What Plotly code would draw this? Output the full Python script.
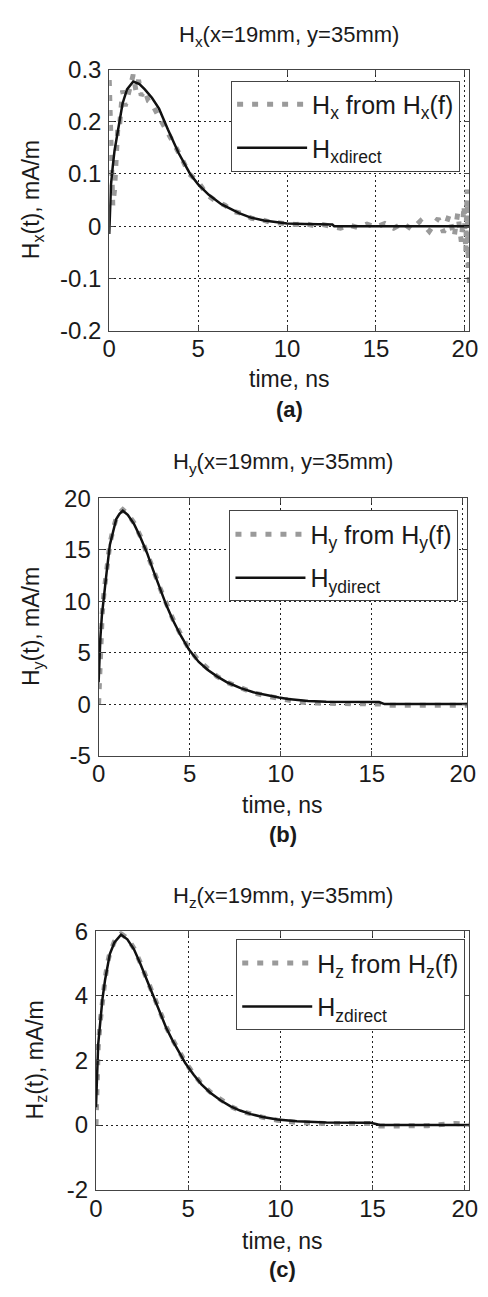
import plotly.graph_objects as go

W, H = 488, 1297

# ---------------- data ----------------
# (a) Hx
tx_direct = [0, 0.05, 0.1, 0.2, 0.3, 0.5, 0.75, 1.0, 1.35, 1.7, 2.0, 2.4, 2.8, 3.3, 3.9,
             4.55, 5.0, 5.6, 6.3, 7.3, 8.0, 8.7, 9.5, 10.0, 11, 12, 12.55, 12.65, 14, 16, 18, 20.25]
hx_direct = [-0.015, 0.04, 0.08, 0.115, 0.145, 0.185, 0.235, 0.262, 0.277, 0.272, 0.262, 0.246,
             0.225, 0.185, 0.14, 0.1, 0.08, 0.06, 0.042, 0.025, 0.016, 0.011, 0.007, 0.005,
             0.004, 0.003, 0.003, 0.0, 0, 0, 0, 0]
tx_freq = [0, 0.05, 0.1, 0.2, 0.3, 0.4, 0.5, 0.6, 0.75, 0.9, 1.05, 1.2, 1.35, 1.5, 1.65, 1.8,
           2.0, 2.2, 2.4, 2.7, 3.0, 3.3, 3.6, 4.0, 4.5, 5.0, 5.5, 6.0, 6.5, 7.0, 7.5, 8.0, 8.5,
           9.0, 9.5, 10, 10.5, 11, 11.5, 12, 12.5, 13, 13.5, 14, 14.5, 15, 15.5, 16, 16.5, 17,
           17.5, 18, 18.5, 18.8, 19.1, 19.4, 19.6, 19.8, 19.95, 20.05, 20.12, 20.18, 20.22, 20.25]
hx_freq = [0.28, 0.2, 0.1, 0.04, 0.07, 0.14, 0.2, 0.2, 0.26, 0.23, 0.25, 0.27, 0.29, 0.26, 0.28,
           0.25, 0.26, 0.24, 0.235, 0.215, 0.195, 0.175, 0.16, 0.135, 0.1, 0.085, 0.06, 0.048,
           0.04, 0.028, 0.024, 0.015, 0.013, 0.008, 0.007, 0.004, 0.003, 0.005, 0.001, 0.003,
           0.0, -0.004, 0.002, -0.003, 0.004, -0.002, 0.005, -0.004, 0.006, -0.006, 0.01, -0.01,
           0.015, -0.012, 0.02, -0.02, 0.025, -0.03, 0.04, -0.05, 0.07, -0.08, 0.05, -0.115]

# (b) Hy
ty_direct = [0, 0.05, 0.1, 0.18, 0.3, 0.44, 0.62, 0.8, 0.97, 1.15, 1.33, 1.6, 1.95, 2.3, 2.66,
             3.0, 3.37, 3.7, 4.07, 4.5, 4.96, 5.5, 6.02, 6.5, 7.08, 7.8, 8.5, 9.2, 9.9, 10.4,
             10.9, 11.5, 12.5, 13.5, 14.8, 15.4, 15.7, 17, 18.5, 20.25]
hy_direct = [2.1, 4.5, 6.5, 8.6, 10.8, 12.8, 15.5, 16.9, 18.0, 18.5, 18.8, 18.4, 17.5, 16.2, 14.7,
             13.0, 11.2, 9.7, 8.2, 6.7, 5.3, 4.1, 3.3, 2.7, 2.1, 1.55, 1.15, 0.87, 0.64, 0.5, 0.4,
             0.3, 0.22, 0.22, 0.25, 0.2, 0.0, 0, 0, 0]
ty_freq = [0, 0.05, 0.1, 0.2, 0.3, 0.44, 0.62, 0.8, 0.97, 1.15, 1.33, 1.6, 1.95, 2.3, 2.66, 3.0,
           3.37, 3.7, 4.07, 4.5, 4.96, 5.5, 6.02, 6.5, 7.08, 7.8, 8.5, 9.2, 9.9, 10.5, 11, 12,
           13, 14, 15, 15.5, 16, 17, 18, 19, 20.25]
hy_freq = [0.0, 2.5, 5.0, 8.8, 10.9, 13.0, 15.6, 17.0, 18.1, 18.6, 18.9, 18.5, 17.6, 16.3, 14.8,
           13.1, 11.3, 9.8, 8.3, 6.8, 5.4, 4.2, 3.35, 2.7, 2.1, 1.55, 1.1, 0.8, 0.55, 0.35, 0.2,
           0.1, 0.1, 0.1, 0.1, 0.0, -0.1, -0.1, -0.1, -0.1, -0.1]

# (c) Hz
tz_direct = [0, 0.05, 0.12, 0.23, 0.35, 0.49, 0.62, 0.75, 1.0, 1.36, 1.7, 2.06, 2.4, 2.76, 3.1,
             3.46, 3.8, 4.15, 4.5, 4.85, 5.3, 5.72, 6.2, 6.77, 7.3, 7.82, 8.4, 9.04, 9.84, 10.9,
             12.5, 14.9, 15.4, 16, 18, 20.25]
hz_direct = [0.55, 1.66, 2.5, 3.17, 3.9, 4.48, 4.95, 5.29, 5.65, 5.89, 5.75, 5.44, 5.0, 4.48,
             3.97, 3.47, 3.02, 2.62, 2.25, 1.91, 1.56, 1.26, 1.0, 0.76, 0.58, 0.45, 0.34, 0.25,
             0.17, 0.12, 0.08, 0.07, 0.0, 0, 0, 0]
tz_freq = [0, 0.05, 0.12, 0.23, 0.35, 0.49, 0.62, 0.75, 1.0, 1.36, 1.7, 2.06, 2.4, 2.76, 3.1,
           3.46, 3.8, 4.15, 4.5, 4.85, 5.3, 5.72, 6.2, 6.77, 7.3, 7.82, 8.4, 9.04, 9.84, 10.9,
           12.5, 14.9, 15.4, 16, 17, 18, 19, 19.5, 20.25]
hz_freq = [0.0, 1.0, 2.4, 3.2, 3.95, 4.5, 5.0, 5.32, 5.68, 5.92, 5.78, 5.47, 5.03, 4.52, 4.0,
           3.5, 3.05, 2.65, 2.28, 1.94, 1.58, 1.28, 1.02, 0.77, 0.58, 0.44, 0.33, 0.24, 0.15,
           0.08, 0.05, 0.05, -0.03, -0.03, -0.03, -0.02, 0.03, 0.05, 0.02]

titles = ["H<sub>x</sub>(x=19mm, y=35mm)", "H<sub>y</sub>(x=19mm, y=35mm)",
          "H<sub>z</sub>(x=19mm, y=35mm)"]
ylabels = ["H<sub>x</sub>(t), mA/m", "H<sub>y</sub>(t), mA/m", "H<sub>z</sub>(t), mA/m"]
freq_names = ["H<sub>x</sub> from H<sub>x</sub>(f)", "H<sub>y</sub> from H<sub>y</sub>(f)",
              "H<sub>z</sub> from H<sub>z</sub>(f)"]
direct_names = ["H<sub>xdirect</sub>", "H<sub>ydirect</sub>", "H<sub>zdirect</sub>"]
panel_tags = ["<b>(a)</b>", "<b>(b)</b>", "<b>(c)</b>"]
x_ticks = [0, 5, 10, 15, 20]
x_ticktext = ["0", "5", "10", "15", "20"]
y_ticks = [[-0.2, -0.1, 0, 0.1, 0.2, 0.3], [-5, 0, 5, 10, 15, 20], [-2, 0, 2, 4, 6]]
y_ticktext = [["-0.2", "-0.1", "0", "0.1", "0.2", "0.3"], ["-5", "0", "5", "10", "15", "20"],
              ["-2", "0", "2", "4", "6"]]
y_ranges = [[-0.2, 0.3], [-5, 20], [-2, 6]]
x_range = [0, 20.25]

# ---------------- layout geometry (pixels) ----------------
boxes = [  # left, right, top, bottom
    (105.7, 478.0, 56.7, 323.3),
    (94.7, 476.0, 494.7, 757.3),
    (92.0, 478.0, 936.7, 1200.7),
]
title_y = [22, 459, 902]
xlabel_y = [373, 808, 1253]
tag_y = [404, 838, 1282]
ylabel_x = [26, 27, 30]
legend_pos = [(231.7, 68), (230, 507), (237, 945)]

FONT = "Liberation Sans, Arial, sans-serif"
TXT = "#1a1a1a"

def px(x):
    return x / W

def py(y):
    return 1 - y / H

fig = go.Figure()
series = [
    (tx_freq, hx_freq, tx_direct, hx_direct),
    (ty_freq, hy_freq, ty_direct, hy_direct),
    (tz_freq, hz_freq, tz_direct, hz_direct),
]
layout = dict()
annotations = []
for i, (tf, vf, td, vd) in enumerate(series):
    sfx = "" if i == 0 else str(i + 1)
    leg = "legend" + sfx
    fig.add_trace(go.Scatter(
        x=tf, y=vf, mode="lines", name=freq_names[i],
        line=dict(color="#9a9a9a", width=5, dash="6px,9px"),
        xaxis="x" + sfx, yaxis="y" + sfx, legend=leg, legendgroup="f%d" % i))
    fig.add_trace(go.Scatter(
        x=td, y=vd, mode="lines", name=direct_names[i],
        line=dict(color="#111111", width=2.5),
        xaxis="x" + sfx, yaxis="y" + sfx, legend=leg, legendgroup="d%d" % i))
    l, r, t, b = boxes[i]
    axcommon = dict(showline=True, linecolor="#444", linewidth=1, mirror="ticks",
                    ticks="inside", ticklen=5, tickcolor="#444",
                    showgrid=True, gridcolor="#222", griddash="2px,3px", gridwidth=1,
                    zeroline=False, tickfont=dict(family=FONT, size=24, color=TXT))
    layout["xaxis" + sfx] = dict(axcommon, domain=[px(l), px(r)], range=x_range,
                                 tickvals=x_ticks, ticktext=x_ticktext,
                                 anchor="y" + sfx, ticklabelstandoff=-3)
    layout["yaxis" + sfx] = dict(axcommon, domain=[py(b), py(t)], range=y_ranges[i],
                                 tickvals=y_ticks[i], ticktext=y_ticktext[i],
                                 anchor="x" + sfx, ticklabelstandoff=2)
    lx, ly = legend_pos[i]
    layout[leg] = dict(x=px(lx), y=py(ly), xanchor="left", yanchor="top",
                       bgcolor="white", bordercolor="#444", borderwidth=1,
                       font=dict(family=FONT, size=25, color=TXT),
                       itemwidth=70, tracegroupgap=8, traceorder="grouped")
    cx = (l + r) / 2
    annotations.append(dict(text=titles[i], x=px(cx), y=py(title_y[i]), xref="paper",
                            yref="paper", showarrow=False, xanchor="center", yanchor="middle",
                            font=dict(family=FONT, size=22, color=TXT)))
    annotations.append(dict(text="time, ns", x=px(cx), y=py(xlabel_y[i]), xref="paper",
                            yref="paper", showarrow=False, xanchor="center", yanchor="middle",
                            font=dict(family=FONT, size=23, color=TXT)))
    annotations.append(dict(text=panel_tags[i], x=px(cx), y=py(tag_y[i]), xref="paper",
                            yref="paper", showarrow=False, xanchor="center", yanchor="middle",
                            font=dict(family=FONT, size=22, color=TXT)))
    annotations.append(dict(text=ylabels[i], x=px(ylabel_x[i]), y=py((t + b) / 2),
                            xref="paper", yref="paper", showarrow=False, textangle=-90,
                            xanchor="center", yanchor="middle",
                            font=dict(family=FONT, size=23, color=TXT)))

fig.update_layout(
    width=W, height=H, margin=dict(l=0, r=0, t=0, b=0),
    paper_bgcolor="white", plot_bgcolor="white",
    annotations=annotations, **layout)
fig.write_html("out.html")
